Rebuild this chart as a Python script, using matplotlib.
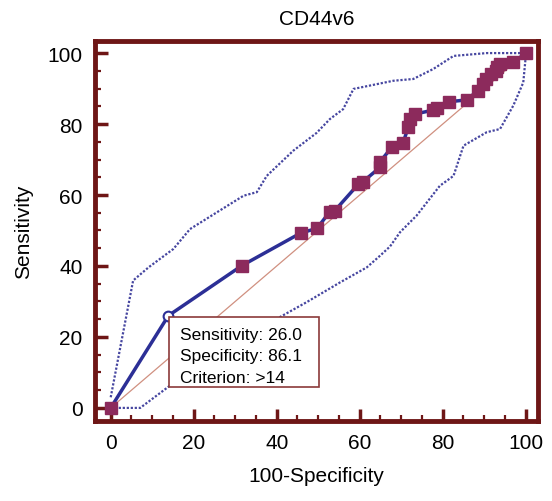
import numpy as np
import matplotlib as mpl
mpl.use('Agg')
import matplotlib.pyplot as plt
from matplotlib.patches import Rectangle

plt.rcParams['font.family'] = ['Liberation Sans', 'DejaVu Sans']

## ROC points (100-Specificity, Sensitivity)
roc_x = [0, 13.9, 31.6, 45.8, 49.7, 52.8, 54.0, 59.7, 60.7, 64.9, 64.9, 67.7, 70.4,
         71.7, 72.1, 73.2, 77.6, 78.6, 81.5, 85.8, 88.4, 89.6, 90.4, 91.6, 92.8,
         93.0, 93.8, 97.0, 100]
roc_y = [0, 26.0, 40.1, 49.3, 50.6, 55.3, 55.6, 63.1, 63.7, 67.8, 69.4, 73.4, 74.6,
         79.1, 81.4, 82.8, 83.9, 84.4, 86.3, 86.8, 89.4, 91.3, 92.7, 94.1, 95.0,
         96.0, 96.9, 97.4, 100]

# criterion point
crit_x = 13.9
crit_y = 26.0

# confidence bands
upper_x = [0, 5.4, 9.1, 15.1, 19.1, 32.0, 35.2, 37.6, 44.0, 49.6, 52.8, 56.0, 58.5,
           68.1, 72.9, 77.7, 82.6, 90.6, 99.4, 100]
upper_y = [3, 35.9, 39.6, 44.8, 50.4, 59.8, 60.8, 65.4, 72.5, 77.5, 81.4, 84.2, 89.9,
           92.2, 92.7, 95.5, 99.2, 100, 100, 100]
lower_x = [0, 7.1, 14.3, 22, 30, 40, 47.2, 55.3, 61.7, 64.9, 67.3, 69.7, 73.7, 79.3,
           82.6, 85.0, 90.6, 93.8, 97.0, 99.4, 100]
lower_y = [0, 0, 6.3, 11, 17, 25.1, 29.8, 35.4, 39.6, 42.9, 45.5, 49.5, 54.2, 62.6,
           65.4, 73.9, 77.7, 78.6, 85.2, 91.7, 99]

info_lines = ['Sensitivity: 26.0', 'Specificity: 86.1', 'Criterion: >14']

dark_red = '#6e1616'
line_blue = '#2c2f96'
marker_col = '#8c2a5c'
band_col = '#4646a0'

fig = plt.figure(figsize=(5.52, 5.02), dpi=100)
ax = fig.add_axes([0.172, 0.160, 0.803, 0.757])

ax.plot([0, 100], [0, 100], color='#d09080', lw=0.9, zorder=1)
ax.plot(upper_x, upper_y, color=band_col, lw=1.6, ls=(0, (1, 0.8)), zorder=2)
ax.plot(lower_x, lower_y, color=band_col, lw=1.6, ls=(0, (1, 0.8)), zorder=2)
ax.plot(roc_x, roc_y, color=line_blue, lw=2.5, zorder=3)
pts = [(x, y) for x, y in zip(roc_x, roc_y) if (x, y) != (crit_x, crit_y)]
ax.plot([p[0] for p in pts], [p[1] for p in pts], ls='none', marker='s', ms=9,
        mfc=marker_col, mec=marker_col, zorder=4)
ax.plot([crit_x], [crit_y], ls='none', marker='o', ms=7, mfc='white',
        mec=line_blue, mew=1.5, zorder=4)

# info box
ax.add_patch(Rectangle((14.0, 5.9), 36.2, 19.7, fc='white', ec='#8b3a3a', lw=1.2,
                       zorder=5))
for i, line in enumerate(info_lines):
    ax.text(16.6, 20.6 - i * 5.95, line, fontsize=12.5, va='center', ha='left',
            zorder=6)

ax.set_xlim(-3.8, 103)
ax.set_ylim(-3.6, 103.5)
ax.set_xticks(range(0, 101, 20))
ax.set_xticks(range(0, 101, 5), minor=True)
ax.set_yticks(range(0, 101, 20))
ax.set_yticks(range(0, 101, 5), minor=True)
ax.tick_params(which='major', direction='in', length=9, width=2.5, color=dark_red,
               labelsize=15, pad=9)
ax.tick_params(which='minor', direction='in', length=4.5, width=1.6, color=dark_red)
for s in ax.spines.values():
    s.set_color(dark_red)
    s.set_linewidth(3.5)

ax.set_title('CD44v6', fontsize=15, pad=12)
ax.set_xlabel('100-Specificity', fontsize=15, labelpad=10)
ax.set_ylabel('Sensitivity', fontsize=15, labelpad=10)

fig.savefig('out.png', dpi=100)
